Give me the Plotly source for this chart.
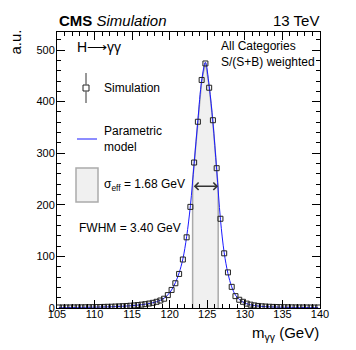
import plotly.graph_objects as go

# bin centres (0.5 GeV bins) and simulated yields
mass = [105.25 + 0.5 * i for i in range(70)]
sim = [1.0, 1.0, 1.1, 1.1, 1.2, 1.3, 1.3, 1.4, 1.5, 1.6,
       1.8, 1.9, 2.1, 2.3, 2.5, 2.8, 3.1, 3.5, 3.9, 4.4,
       5.0, 5.7, 6.5, 7.4, 8.6, 10.0, 12.0, 14.5, 18.0, 25.0,
       35.0, 48.0, 66.0, 94.0, 137.0, 196.0, 282.0, 361.0, 442.0, 474.0,
       427.0, 364.0, 271.0, 173.0, 106.0, 69.0, 41.0, 23.0, 16.0, 12.0,
       8.5, 6.5, 5.0, 4.0, 3.3, 2.8, 2.4, 2.1, 1.9, 1.7,
       1.5, 1.4, 1.3, 1.2, 1.2, 1.1, 1.1, 1.0, 1.0, 1.0]
model = [0.8, 0.9, 0.9, 1.0, 1.0, 1.1, 1.2, 1.3, 1.4, 1.5,
         1.6, 1.8, 2.0, 2.2, 2.4, 2.7, 3.0, 3.4, 3.8, 4.3,
         4.9, 5.6, 6.4, 7.4, 8.6, 10.2, 12.2, 15.0, 19.0, 25.5,
         35.0, 49.0, 68.0, 95.0, 138.0, 198.0, 280.0, 364.0, 440.0, 476.0,
         430.0, 360.0, 268.0, 172.0, 107.0, 67.0, 41.0, 25.0, 16.5, 11.5,
         8.3, 6.2, 4.8, 3.8, 3.1, 2.6, 2.2, 1.9, 1.7, 1.5,
         1.4, 1.3, 1.2, 1.1, 1.0, 1.0, 0.9, 0.9, 0.8, 0.8]

band_x = [123.05, 126.45]      # sigma_eff window
band_edge_y = [247.0, 232.0]
fwhm_x = [123.0, 126.45]
half_max = 236.0

FONT = "Liberation Sans"
W, H = 356, 350
L, R, T, B = 57, 36, 32, 42


def px(x):
    return (x - L) / (W - L - R)


def py(y):
    return (H - B - y) / (H - T - B)


inside = [i for i, m in enumerate(mass) if band_x[0] < m < band_x[1]]
bx = [band_x[0], band_x[0]] + [mass[i] for i in inside] + [band_x[1], band_x[1]]
by = [0, band_edge_y[0]] + [model[i] for i in inside] + [band_edge_y[1], 0]

fig = go.Figure()
fig.add_trace(go.Scatter(x=bx, y=by, fill="toself", fillcolor="#f0f0f0",
                         line=dict(color="#aaaaaa", width=1.5), mode="lines",
                         hoverinfo="skip"))
fig.add_trace(go.Scatter(x=mass, y=model, mode="lines", line_shape="spline",
                         line=dict(color="#1a1aff", width=1)))
fig.add_trace(go.Scatter(x=mass, y=sim, mode="markers",
                         marker=dict(symbol="square-open", size=5, color="#222222",
                                     line=dict(width=1, color="#222222"))))

axis_common = dict(showline=True, linecolor="black", linewidth=1, mirror="allticks",
                   ticks="inside", ticklen=8, tickcolor="black", showgrid=False,
                   zeroline=False, tickfont=dict(family=FONT, size=11, color="black"))
fig.update_xaxes(range=[105, 140], dtick=5, tick0=105, ticklabelstandoff=-4,
                 minor=dict(dtick=1, ticklen=4, ticks="inside", tickcolor="black"),
                 **axis_common)
fig.update_yaxes(range=[0, 535], dtick=100, ticklabelstandoff=-1,
                 minor=dict(dtick=20, ticklen=4, ticks="inside", tickcolor="black"),
                 **axis_common)

ann = []
ann.append(dict(x=fwhm_x[1], y=half_max, ax=fwhm_x[0], ay=half_max, axref="x", ayref="y",
                xref="x", yref="y", text="", showarrow=True, arrowhead=4,
                arrowside="end+start", arrowsize=1.1, arrowwidth=1.3, arrowcolor="#333333"))


def txt(x, y, s, size=12, xanchor="left", **kw):
    ann.append(dict(x=px(x), y=py(y), xref="paper", yref="paper", text=s, showarrow=False,
                    xanchor=xanchor, yanchor="middle", align=xanchor,
                    font=dict(family=FONT, size=size, color="black"), **kw))


txt(57, 20, "<b>CMS</b> <i>Simulation</i>", size=15)
txt(321, 20, "13 TeV", size=15, xanchor="right")
txt(75, 47, "H⟶γγ", size=14)
txt(219, 54, "All Categories<br>S/(S+B) weighted", size=12)
txt(102, 88, "Simulation")
txt(102, 139, "Parametric<br>model")
txt(102, 185, "σ<sub>eff</sub> = 1.68 GeV")
txt(77, 228, "FWHM = 3.40 GeV")
txt(321, 333, "m<sub>γγ</sub> (GeV)", size=15, xanchor="right")
ann.append(dict(x=px(15), y=py(28), xref="paper", yref="paper", text="a.u.",
                showarrow=False, textangle=-90, xanchor="center", yanchor="top",
                font=dict(family=FONT, size=15, color="black")))

shapes = [
    dict(type="line", xref="paper", yref="paper", x0=px(86), x1=px(86), y0=py(73), y1=py(84.5),
         line=dict(color="#333333", width=1)),
    dict(type="line", xref="paper", yref="paper", x0=px(86), x1=px(86), y0=py(91.5), y1=py(103),
         line=dict(color="#333333", width=1)),
    dict(type="rect", xref="paper", yref="paper", x0=px(83), x1=px(89), y0=py(85), y1=py(91),
         line=dict(color="#222222", width=1)),
    dict(type="line", xref="paper", yref="paper", x0=px(77), x1=px(97), y0=py(139), y1=py(139),
         line=dict(color="#1a1aff", width=1)),
    dict(type="rect", xref="paper", yref="paper", x0=px(76), x1=px(98), y0=py(168), y1=py(202),
         fillcolor="#f0f0f0", line=dict(color="#aaaaaa", width=1.5)),
]

fig.update_layout(width=W, height=H, margin=dict(l=L, r=R, t=T, b=B),
                  plot_bgcolor="white", paper_bgcolor="white", showlegend=False,
                  annotations=ann, shapes=shapes,
                  font=dict(family=FONT, size=11, color="black"))
fig.write_html("out.html", config={"displayModeBar": False},
               post_script="document.body.style.margin='0';")
